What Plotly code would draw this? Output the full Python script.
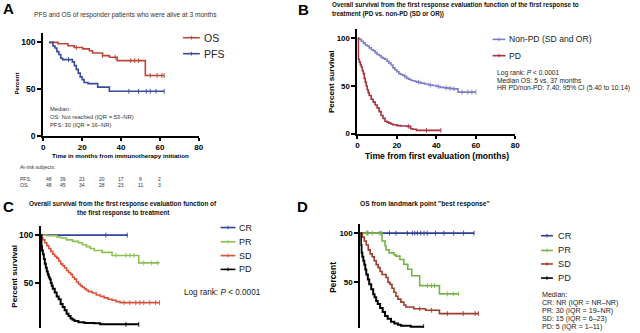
import numpy as np
import plotly.graph_objects as go

W, H = 640, 333
FONT = "Liberation Sans, Arial, sans-serif"

# ---------------- Panel A: responders alive at 3 months ----------------
a_os_t = [3, 7.6, 12.7, 16, 20.3, 23.7, 25.4, 30.5, 34, 38, 52.5, 62.2]
a_os_s = [100, 98.4, 96.3, 94.5, 93, 91, 88.5, 85.7, 84, 80.4, 64.5, 64.5]
a_os_cens = [17, 30.5, 37, 45, 47, 49, 55, 58.5, 61, 62.2]

a_pfs_t = [3, 5, 6, 7, 8, 9, 10, 15, 16, 17, 18, 19, 20, 21, 23, 28, 34, 62.2]
a_pfs_s = [100, 96, 94, 90, 87, 83, 81.5, 79, 75, 71, 67, 63, 60, 57, 55.7, 52, 47.5, 47.5]
a_pfs_cens = [13, 44, 49, 53, 55, 58, 62.2]

risk_times = [3, 10, 20, 30, 40, 50, 60]
risk_pfs = [48, 39, 23, 20, 17, 9, 2]
risk_os = [48, 45, 34, 28, 23, 11, 3]

# ---------------- Panel B: PD vs non-PD ----------------
b_npd_t = [0, 1, 2, 3, 4, 5, 6, 7, 8, 9, 10, 11, 12, 13, 14, 15, 16, 17, 18, 19, 20, 21,
           22, 23, 24, 25, 26, 27, 28, 29, 30, 32, 34, 36, 38, 40, 42, 44, 46, 48, 51, 60]
b_npd_s = [100, 99, 97, 95, 93, 92, 90, 88, 87, 85, 83, 82, 80, 79, 78, 76, 74, 72, 69, 67,
           65, 63, 62, 61, 60, 58, 57, 56, 55.5, 55, 54, 53, 52, 51, 50.5, 49.5, 48.5, 48,
           47.5, 47, 43.5, 43.5]
b_npd_cens = [24, 31, 37, 41, 45, 47, 49, 53, 56, 58, 60]

b_pd_t = [0, 0.5, 1, 1.5, 2, 2.5, 3, 3.5, 4, 4.5, 5, 5.5, 6, 7, 8, 9, 10, 11, 12, 13, 14,
          15, 16, 17, 18, 20, 22, 25, 27, 28, 30, 42.3]
b_pd_s = [100, 78, 75, 72, 70, 66, 63, 58, 54, 50, 46, 43, 40, 36, 33, 30, 27, 23, 19, 16,
          13, 12, 11, 10, 9.3, 8.3, 8, 7.6, 5, 4.5, 3.4, 3.4]
b_pd_cens = [26, 35, 42.3]

# ---------------- Panel C: by first response ----------------
c_cr_t = [0, 43.7]
c_cr_s = [100, 100]
c_cr_cens = [32.8, 43.7]

c_pr_t = [0, 3, 8, 10, 13, 16, 19, 21, 23, 25, 27, 31, 36, 49.5, 60]
c_pr_s = [100, 99.3, 98, 97, 95, 93.5, 92, 90, 88, 86, 84, 82, 78.8, 71, 71]
c_pr_cens = [38, 43, 45, 47, 52, 56, 59]

c_sd_t = [0, 0.5, 1, 2, 3, 4, 5, 6, 7, 8, 9, 10, 11, 12, 13, 14, 15, 16, 17, 18, 19, 20,
          21, 22, 23, 24, 26, 28, 30, 32, 34, 36, 38, 40, 60]
c_sd_s = [100, 97, 95, 92, 89, 86, 83, 80, 78, 76, 73, 70, 68, 66, 63, 61, 59, 56, 54, 51,
          49, 47, 45.5, 44, 42.5, 41, 39.5, 37.5, 36, 34.5, 33, 32, 30.5, 29.5, 29.5]
c_sd_cens = [42, 45, 48, 50, 52, 55, 58, 60]

c_pd_t = [0, 0.3, 0.6, 1, 1.5, 2, 2.5, 3, 3.5, 4, 4.5, 5, 5.5, 6, 7, 8, 9, 10, 11, 12, 13,
          14, 15, 16, 17, 19, 22, 27, 30, 49.5]
c_pd_s = [100, 88, 84, 80, 75, 70, 66, 62, 59, 56, 54, 50, 47, 44, 40, 36, 33, 28, 25,
          21.6, 18, 15.5, 13, 11.5, 10.3, 9, 8.3, 7.9, 6.8, 6.8]
c_pd_cens = [43, 49.5]

# ---------------- Panel D: landmark at best response ----------------
d_cr_t = [0, 57.5]
d_cr_s = [100, 100]
d_cr_cens = [3.8, 10.5, 14.7, 18, 23.8, 26.3, 27.5, 28.8, 30.5, 32.2, 33.8, 38, 42.2,
             47.2, 52.2, 57.5]

d_pr_t = [0, 11, 12.5, 13, 14.5, 17, 18, 20, 22, 24, 26, 30, 40, 49.7]
d_pr_s = [100, 92, 87, 83, 80, 78, 76.7, 73.3, 68.3, 63.3, 56.7, 46.7, 38.3, 38.3]
d_pr_cens = [3, 6, 9.5, 34, 36, 37.5, 44, 47, 49.7]

d_sd_t = [0, 1, 2, 3, 4, 5, 6, 7, 8, 9, 10, 11, 13, 14, 15, 16, 17, 18, 19, 20.5, 22, 23,
          27, 33, 40, 59.7]
d_sd_s = [100, 96, 92, 88, 83, 79, 76, 72, 68, 65, 61, 58, 55, 50, 48, 44, 40, 36, 33, 30,
          27, 25, 23.3, 21.7, 18.3, 18.3]
d_sd_cens = [30, 36, 44, 52, 58, 59.7]

d_pd_t = [0, 0.3, 0.6, 1, 1.5, 2, 2.5, 3, 3.8, 4.5, 5.5, 6.5, 7.2, 8, 8.8, 10, 11.3, 12.5,
          13.8, 15.5, 17.2, 19, 20.5, 25.5, 32]
d_pd_s = [100, 88, 80, 76, 72, 68, 63, 58, 53, 48, 43, 38, 35, 31, 28, 24, 20, 16, 13, 10,
          8.3, 7, 6, 5, 5]
d_pd_cens = [32]

# colours
A_OS, A_PFS = "#b8473a", "#3b4a9e"
B_NPD, B_PD = "#7c80c2", "#a8333f"
C_CR, C_PR, C_SD, C_PD = "#2e44a0", "#8cc152", "#dc5038", "#000000"
D_CR, D_PR, D_SD, D_PD = "#2b3f96", "#78b34a", "#a03b2b", "#000000"


def px(x):
    return x / W


def py(y):
    return 1 - y / H


fig = go.Figure()


def km(t, s, color, xa, ya, censor=(), width=1.6):
    fig.add_trace(go.Scatter(
        x=t, y=s, mode="lines", xaxis=xa, yaxis=ya, showlegend=False,
        hoverinfo="skip", line=dict(color=color, width=width, shape="hv")))
    if len(censor):
        idx = np.searchsorted(np.asarray(t), np.asarray(censor), side="right") - 1
        cy = np.asarray(s)[idx]
        fig.add_trace(go.Scatter(
            x=list(censor), y=list(cy), mode="markers", xaxis=xa, yaxis=ya,
            showlegend=False, hoverinfo="skip",
            marker=dict(symbol="line-ns", size=3.5, color=color,
                        line=dict(color=color, width=0.9))))


km(a_os_t, a_os_s, A_OS, "x", "y", a_os_cens)
km(a_pfs_t, a_pfs_s, A_PFS, "x", "y", a_pfs_cens)

km(b_npd_t, b_npd_s, B_NPD, "x2", "y2", b_npd_cens)
km(b_pd_t, b_pd_s, B_PD, "x2", "y2", b_pd_cens)

km(c_cr_t, c_cr_s, C_CR, "x3", "y3", c_cr_cens)
km(c_pr_t, c_pr_s, C_PR, "x3", "y3", c_pr_cens)
km(c_sd_t, c_sd_s, C_SD, "x3", "y3", c_sd_cens)
km(c_pd_t, c_pd_s, C_PD, "x3", "y3", c_pd_cens, width=2)

km(d_cr_t, d_cr_s, D_CR, "x4", "y4", d_cr_cens)
km(d_pr_t, d_pr_s, D_PR, "x4", "y4", d_pr_cens)
km(d_sd_t, d_sd_s, D_SD, "x4", "y4", d_sd_cens)
km(d_pd_t, d_pd_s, D_PD, "x4", "y4", d_pd_cens, width=2)


def xax(dom, rng, show=True, size=8.5):
    d = dict(domain=dom, range=rng, showgrid=False, zeroline=False, fixedrange=True)
    if show:
        d.update(showline=True, linecolor="black", linewidth=2, ticks="outside",
                 ticklen=3, tickwidth=1.5, tickcolor="black", tickvals=[0, 20, 40, 60, 80],
                 tickfont=dict(family=FONT, size=size, color="black", weight="bold"))
    else:
        d.update(showline=False, ticks="", showticklabels=False)
    return d


def yax(dom, rng, anchor, vals, size=8.5):
    return dict(domain=dom, range=rng, anchor=anchor, showgrid=False, zeroline=False,
                showline=True, linecolor="black", linewidth=2, ticks="outside",
                ticklen=4, tickwidth=1.5, tickcolor="black", tickvals=vals,
                tickfont=dict(family=FONT, size=size, color="black", weight="bold"),
                fixedrange=True)


fig.update_layout(
    width=W, height=H, margin=dict(l=0, r=0, t=0, b=0),
    paper_bgcolor="white", plot_bgcolor="white", showlegend=False,
    xaxis=dict(**xax([px(41.7), px(199)], [0, 80], size=8), anchor="y"),
    yaxis=yax([py(137.7), py(33.5)], [0, 110], "x", [0, 50, 100]),
    xaxis2=dict(**xax([px(359.3), px(519)], [0, 80], size=8), anchor="y2"),
    yaxis2=yax([py(135.6), py(29.3)], [0, 110], "x2", [0, 50, 100], size=7.8),
    xaxis3=dict(**xax([px(39.3), px(199.3)], [0, 80], show=False), anchor="y3"),
    yaxis3=yax([0, py(229)], [3, 110], "x3", [50, 100]),
    xaxis4=dict(**xax([px(362.3), px(522.3)], [0, 80], show=False), anchor="y4"),
    yaxis4=yax([0, py(227.7)], [3.7, 109], "x4", [50, 100], size=8),
)


def text(x, y, s, size, xanchor="left", yanchor="middle", color="#111", angle=0):
    fig.add_annotation(x=px(x), y=py(y), xref="paper", yref="paper", text=s,
                       showarrow=False, xanchor=xanchor, yanchor=yanchor,
                       textangle=angle, align="left", borderpad=0,
                       font=dict(family=FONT, size=size, color=color))


def legend_item(x0, x1, y, color, label, tx, size):
    fig.add_shape(type="line", xref="paper", yref="paper", x0=px(x0), x1=px(x1),
                  y0=py(y), y1=py(y), line=dict(color=color, width=1.6))
    xm = (x0 + x1) / 2
    fig.add_shape(type="line", xref="paper", yref="paper", x0=px(xm), x1=px(xm),
                  y0=py(y - 1.8), y1=py(y + 1.8), line=dict(color=color, width=1))
    text(tx, y, label, size, color="#222")


# panel letters
for lab, x, y in [("A", 7, 9), ("B", 305, 10), ("C", 7, 210), ("D", 304, 210)]:
    text(x, y, "<b>" + lab + "</b>", 15, xanchor="center", color="#000")

# Panel A texts
text(124.5, 15, "PFS and OS of responder patients who were alive at 3 months", 6.6,
     xanchor="center", color="#333")
text(120, 157.5, "<b>Time in months from immunotherapy initiation</b>", 6.2,
     xanchor="center", color="#000")
text(15, 85, "<b>Percent</b>", 6, xanchor="center", color="#000", angle=-90)
legend_item(183, 200, 38.3, A_OS, "OS", 203, 10.5)
legend_item(183, 200, 54.5, A_PFS, "PFS", 203, 10.5)
text(48, 110.5, "Median:", 5.8, color="#333")
text(48, 118.7, "OS: Not reached (IQR = 53–NR)", 5.8, color="#333")
text(48, 127, "PFS: 30 (IQR = 16–NR)", 5.8, color="#333")

text(17, 170, "At-risk subjects:", 5, color="#333")
text(17, 182, "PFS:", 5, color="#333")
text(17, 188, "OS:", 5, color="#333")
for t, p, o in zip(risk_times, risk_pfs, risk_os):
    fig.add_annotation(x=t, y=py(182), xref="x", yref="paper", text=str(p),
                       showarrow=False, xanchor="center", yanchor="middle", borderpad=0,
                       font=dict(family=FONT, size=5, color="#333"))
    fig.add_annotation(x=t, y=py(188), xref="x", yref="paper", text=str(o),
                       showarrow=False, xanchor="center", yanchor="middle", borderpad=0,
                       font=dict(family=FONT, size=5, color="#333"))

# Panel B texts
text(333, 5, "<b>Overall survival from the first response evaluation function of the "
     "first response to</b>", 6.3, color="#111")
text(333, 14.3, "<b>treatment (PD vs. non-PD (SD or OR))</b>", 6.3, color="#111")
text(440, 158, "<b>Time from first evaluation (months)</b>", 8.6, xanchor="center",
     color="#000")
text(333, 83, "<b>Percent survival</b>", 8.1, xanchor="center", color="#000", angle=-90)
legend_item(496, 509, 40, B_NPD, "Non-PD (SD and OR)", 512, 8.6)
legend_item(496, 509, 56.5, B_PD, "PD", 512, 8.6)
text(499, 74.5, "Log rank: <i>P</i> < 0.0001", 6.7, color="#222")
text(499, 82, "Median OS: 5 vs. 37 months", 6.7, color="#222")
text(499, 89.5, "HR PD/non-PD: 7.40; 95% CI (5.40 to 10.14)", 6.7, color="#222")

# Panel C texts
text(122.5, 207.3, "<b>Overall survival from the first response evaluation function of</b>",
     6.4, xanchor="center", color="#111")
text(122.5, 216.7, "<b>the first response to treatment</b>", 6.4, xanchor="center",
     color="#111")
text(13, 280, "<b>Percent survival</b>", 8.1, xanchor="center", color="#000", angle=-90)
for lab, col, y in [("CR", C_CR, 231), ("PR", C_PR, 245.5), ("SD", C_SD, 259.5),
                    ("PD", C_PD, 273.5)]:
    legend_item(221, 236, y, col, lab, 239, 9)
text(182.5, 297.3, "Log rank: <i>P</i> < 0.0001", 8.2, color="#222")

# Panel D texts
text(428, 206.7, '<b>OS from landmark point "best response"</b>', 6.7, xanchor="center",
     color="#111")
text(335, 281.7, "<b>Percent</b>", 8.4, xanchor="center", color="#000", angle=-90)
for lab, col, y in [("CR", D_CR, 239.3), ("PR", D_PR, 254.3), ("SD", D_SD, 268),
                    ("PD", D_PD, 282.3)]:
    legend_item(545, 557, y, col, lab, 561, 9.2)
for i, s in enumerate(["Median:", "CR: NR (IQR = NR–NR)", "PR: 30 (IQR = 19–NR)",
                       "SD: 15 (IQR = 6–23)", "PD: 5 (IQR = 1–11)"]):
    text(545, 300 + 7.9 * i, s, 7.1, color="#222")

fig.write_html("out.html")
